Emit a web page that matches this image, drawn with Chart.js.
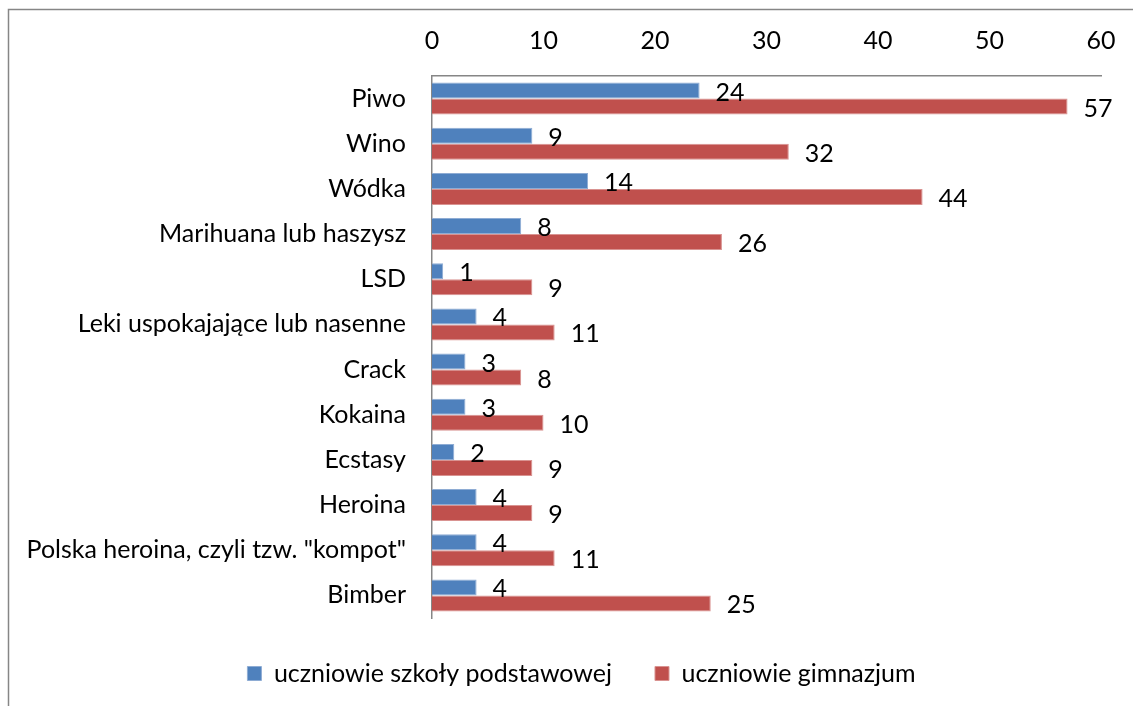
<!DOCTYPE html>
<html>
<head>
<meta charset="utf-8">
<script src="https://cdn.jsdelivr.net/npm/chart.js@4/dist/chart.umd.min.js"></script>
<style>
  html, body { margin: 0; padding: 0; background: #fff; }
  #wrap { width: 1133px; height: 706px; position: relative; }
</style>
</head>
<body>
<div id="wrap"><canvas id="c"></canvas></div>
<script>
const categories = [
  "Piwo", "Wino", "Wódka", "Marihuana lub haszysz", "LSD",
  "Leki uspokajające lub nasenne", "Crack", "Kokaina", "Ecstasy",
  "Heroina", "Polska heroina, czyli tzw. \"kompot\"", "Bimber"
];
const seriesNames = ["uczniowie szkoły podstawowej", "uczniowie gimnazjum"];
const primaryValues = [24, 9, 14, 8, 1, 4, 3, 3, 2, 4, 4, 4];
const gymnasiumValues = [57, 32, 44, 26, 9, 11, 8, 10, 9, 9, 11, 25];
const xTicks = [0, 10, 20, 30, 40, 50, 60];

const FONT = "Lato";
const FSIZE = 25;
const PAD_LEFT = 62;

const frame = {
  id: 'frame',
  beforeDraw(chart) {
    const ctx = chart.ctx;
    ctx.save();
    ctx.fillStyle = '#fff';
    ctx.fillRect(0, 0, chart.width, chart.height);
    ctx.strokeStyle = '#868686';
    ctx.lineWidth = 1.5;
    ctx.beginPath();
    ctx.moveTo(8.5, chart.height);
    ctx.lineTo(8.5, 9.5);
    ctx.lineTo(chart.width, 9.5);
    ctx.stroke();
    ctx.restore();
  }
};

const valueLabels = {
  id: 'valueLabels',
  afterDatasetsDraw(chart) {
    const ctx = chart.ctx;
    ctx.save();
    ctx.font = FSIZE + "px " + FONT;
    ctx.fillStyle = '#000';
    ctx.textAlign = 'left';
    ctx.textBaseline = 'middle';
    chart.data.datasets.forEach((ds, di) => {
      const meta = chart.getDatasetMeta(di);
      meta.data.forEach((bar, i) => {
        ctx.fillText(String(ds.data[i]), bar.x + 16, bar.y + 2);
      });
    });
    ctx.restore();
  }
};

new Chart(document.getElementById('c'), {
  type: 'bar',
  data: {
    labels: categories,
    datasets: [
      { label: seriesNames[0], data: primaryValues, backgroundColor: '#4F81BD',
        borderColor: '#8EACD4', borderWidth: 1, borderSkipped: 'left' },
      { label: seriesNames[1], data: gymnasiumValues, backgroundColor: '#C0504D',
        borderColor: '#D99391', borderWidth: 1, borderSkipped: 'left' }
    ]
  },
  options: {
    indexAxis: 'y',
    responsive: true,
    maintainAspectRatio: false,
    animation: false,
    devicePixelRatio: 1,
    layout: { padding: { left: PAD_LEFT, right: 32, top: 10, bottom: 10 } },
    datasets: { bar: { categoryPercentage: 0.71, barPercentage: 1.0 } },
    scales: {
      x: {
        position: 'top',
        min: 0, max: 60,
        afterBuildTicks(scale) { scale.ticks = xTicks.map(v => ({ value: v })); },
        afterFit(scale) { scale.height = 66; scale.paddingLeft = 0; scale.paddingRight = 0; },
        grid: { display: false, drawTicks: false },
        border: { display: true, color: '#868686', width: 1.5 },
        ticks: { color: '#000', font: { family: FONT, size: FSIZE }, padding: 20 }
      },
      y: {
        afterFit(scale) {
          scale.width = 432 - PAD_LEFT;
          scale._computeLabelArea = function () { return undefined; };
        },
        grid: { display: false, drawTicks: false },
        border: { display: true, color: '#868686', width: 1.5 },
        ticks: { color: '#000', font: { family: FONT, size: FSIZE }, padding: 26, autoSkip: false }
      }
    },
    plugins: {
      legend: {
        position: 'bottom',
        labels: {
          color: '#000',
          font: { family: FONT, size: FSIZE },
          boxWidth: 14, boxHeight: 14,
          padding: 43
        }
      },
      tooltip: { enabled: false }
    }
  },
  plugins: [frame, valueLabels]
});
</script>
</body>
</html>
